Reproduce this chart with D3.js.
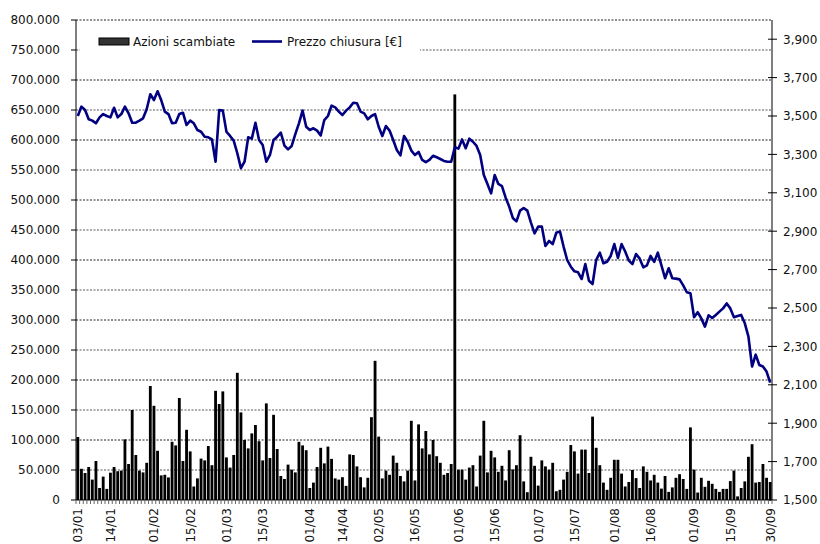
<!DOCTYPE html>
<html lang="en">
<head>
    <meta charset="UTF-8">
    <title>Azioni scambiate e prezzo chiusura</title>
    <script src="https://d3js.org/d3.v7.min.js"></script>
    <style>
        body { margin: 0; background: #fff; }
        svg { display: block; font-family: "DejaVu Sans", sans-serif; }
    </style>
</head>
<body>
    <svg id="chart" width="820" height="544"></svg>

    <script>
        // Trading days (dd/mm), 03/01 to 30/09
        const dates = [
            "03/01","04/01","05/01","06/01","07/01","10/01","11/01","12/01","13/01","14/01","17/01","18/01","19/01","20/01","21/01","24/01","25/01","26/01","27/01","28/01","31/01",
            "01/02","02/02","03/02","04/02","07/02","08/02","09/02","10/02","11/02","14/02","15/02","16/02","17/02","18/02","21/02","22/02","23/02","24/02","25/02","28/02",
            "01/03","02/03","03/03","04/03","07/03","08/03","09/03","10/03","11/03","14/03","15/03","16/03","17/03","18/03","21/03","22/03","23/03","24/03","25/03","28/03","29/03","30/03","31/03",
            "01/04","04/04","05/04","06/04","07/04","08/04","11/04","12/04","13/04","14/04","15/04","18/04","19/04","20/04","21/04","26/04","27/04","28/04","29/04",
            "02/05","03/05","04/05","05/05","06/05","09/05","10/05","11/05","12/05","13/05","16/05","17/05","18/05","19/05","20/05","23/05","24/05","25/05","26/05","27/05","30/05","31/05",
            "01/06","02/06","03/06","06/06","07/06","08/06","09/06","10/06","13/06","14/06","15/06","16/06","17/06","20/06","21/06","22/06","23/06","24/06","27/06","28/06","29/06","30/06",
            "01/07","04/07","05/07","06/07","07/07","08/07","11/07","12/07","13/07","14/07","15/07","18/07","19/07","20/07","21/07","22/07","25/07","26/07","27/07","28/07","29/07",
            "01/08","02/08","03/08","04/08","05/08","08/08","09/08","10/08","11/08","12/08","16/08","17/08","18/08","19/08","22/08","23/08","24/08","25/08","26/08","29/08","30/08","31/08",
            "01/09","02/09","05/09","06/09","07/09","08/09","09/09","12/09","13/09","14/09","15/09","16/09","19/09","20/09","21/09","22/09","23/09","26/09","27/09","28/09","29/09","30/09"
        ];

        // Azioni scambiate (shares traded), in thousands
        const volumeK = [
            105, 52, 45, 55, 34, 65, 20, 39, 18.5, 45.5,
            55, 48, 49, 101, 60, 150, 75, 49, 46, 62,
            190, 157, 82, 41, 42, 37.6, 97, 91, 170, 65,
            117, 81, 22.5, 36, 69, 66, 90, 58, 182, 160,
            181, 71, 54, 75, 212, 146, 100, 86, 111, 125,
            98, 66, 161, 70, 142, 85, 40, 35, 59, 50.5,
            46, 97, 91, 83, 20, 29, 55, 87, 61, 89,
            68.5, 36, 34, 38, 23.6, 76, 75, 56, 38, 21,
            37, 138, 232, 105.6, 36, 49, 42, 74, 62, 40,
            31, 49, 132, 32.6, 126, 86, 115, 76, 100, 73,
            62, 42, 45, 60, 676, 50.6, 50.6, 34, 54, 58,
            22.5, 74, 132, 46, 82, 71, 47, 57, 32.6, 83,
            51, 58, 108, 31, 13, 72, 57, 24, 66, 56,
            50.6, 62, 14.6, 17, 34, 47, 91.6, 81, 44, 84,
            84, 45, 139, 87, 58, 29, 17, 37, 67, 67,
            44, 22.5, 30, 50, 36.5, 20, 56, 47, 32.6, 42,
            29, 19, 40, 13.5, 21, 37, 43, 35, 18.5, 121,
            50.6, 12.4, 37, 22, 32, 27, 18.5, 13.5, 18.5, 18.5,
            31.5, 49, 6, 20, 31, 72, 93, 29, 30, 60,
            37, 30
        ];

        // Prezzo chiusura (right axis)
        const price = [
            3500, 3549, 3531, 3483, 3476, 3462, 3493, 3510, 3500, 3493,
            3543, 3493, 3510, 3549, 3514, 3465, 3465, 3476, 3488, 3535,
            3613, 3583, 3629, 3583, 3523, 3510, 3462, 3465, 3510, 3517,
            3453, 3476, 3462, 3427, 3418, 3392, 3389, 3378, 3262, 3531,
            3528, 3418, 3396, 3372, 3306, 3228, 3262, 3389, 3382, 3465,
            3375, 3349, 3262, 3297, 3375, 3392, 3413, 3346, 3326, 3344,
            3406, 3462, 3528, 3444, 3427, 3436, 3424, 3399, 3479, 3500,
            3554, 3545, 3523, 3505, 3528, 3545, 3569, 3566, 3523, 3514,
            3483, 3500, 3510, 3444, 3396, 3448, 3424, 3375, 3323, 3295,
            3396, 3366, 3320, 3297, 3313, 3271, 3260, 3271, 3293, 3285,
            3276, 3266, 3262, 3262, 3337, 3330, 3378, 3332, 3382, 3366,
            3344, 3297, 3193, 3146, 3097, 3193, 3146, 3135, 3076, 3028,
            2969, 2951, 3007, 3021, 3007, 2945, 2889, 2924, 2924, 2823,
            2849, 2833, 2892, 2899, 2820, 2750, 2715, 2691, 2686, 2651,
            2729, 2642, 2625, 2750, 2788, 2733, 2741, 2771, 2833, 2761,
            2833, 2794, 2747, 2729, 2781, 2757, 2712, 2722, 2771, 2740,
            2788, 2722, 2655, 2707, 2655, 2653, 2649, 2618, 2582, 2577,
            2452, 2478, 2446, 2403, 2462, 2448, 2464, 2481, 2498, 2524,
            2498, 2452, 2458, 2464, 2420, 2351, 2195, 2257, 2203, 2195,
            2169, 2111
        ];

        // Labelled dates on the x axis
        const tickLabels = ["03/01","14/01","01/02","15/02","01/03","15/03","01/04","14/04","02/05","16/05",
                            "01/06","15/06","01/07","15/07","01/08","16/08","01/09","15/09","30/09"];

        const leftTicks = d3.range(0, 800001, 50000);
        const rightTicks = d3.range(1500, 3901, 200);

        const data = dates.map((d, i) => ({ date: d, volume: volumeK[i] * 1000, price: price[i] }));

        const m = { left: 76, right: 772, top: 20, bottom: 500 };
        const svg = d3.select("#chart");

        const x = d3.scaleBand().domain(dates).range([m.left, m.right]).paddingInner(0.22).paddingOuter(0.11);
        const yL = d3.scaleLinear().domain([0, 800000]).range([m.bottom, m.top]);
        const yR = d3.scaleLinear().domain([1500, 4000]).range([m.bottom, m.top]);

        const fmtLeft = v => v === 0 ? "0" : d3.format(",")(v).replace(/,/g, ".");
        const fmtRight = d3.format(",");

        // gridlines: dark every 100.000, grey in between
        svg.append("g").selectAll("line")
            .data(leftTicks.filter(v => v > 0))
            .join("line")
            .attr("x1", m.left).attr("x2", m.right)
            .attr("y1", d => yL(d)).attr("y2", d => yL(d))
            .attr("stroke", d => d % 100000 === 0 ? "#222" : "#aaa")
            .attr("stroke-width", d => d % 100000 === 0 ? 1 : 2)
            .attr("stroke-dasharray", "2,1.5");

        // bars
        svg.append("g").selectAll("rect")
            .data(data)
            .join("rect")
            .attr("x", d => x(d.date))
            .attr("width", x.bandwidth())
            .attr("y", d => yL(d.volume))
            .attr("height", d => yL(0) - yL(d.volume))
            .attr("fill", "#000");

        // price line
        const line = d3.line()
            .x(d => x(d.date) + x.bandwidth() / 2)
            .y(d => yR(d.price));

        svg.append("path")
            .datum(data)
            .attr("d", line)
            .attr("fill", "none")
            .attr("stroke", "#000080")
            .attr("stroke-width", 2.6)
            .attr("stroke-linejoin", "round");

        // left axis
        const gL = svg.append("g");
        gL.append("line").attr("x1", m.left).attr("x2", m.left).attr("y1", m.top).attr("y2", m.bottom).attr("stroke", "#000");
        gL.selectAll("line.t").data(leftTicks).join("line")
            .attr("class", "t")
            .attr("x1", m.left - 5).attr("x2", m.left)
            .attr("y1", d => yL(d)).attr("y2", d => yL(d))
            .attr("stroke", "#000");
        gL.selectAll("text").data(leftTicks).join("text")
            .attr("x", m.left - 16).attr("y", d => yL(d)).attr("dy", "0.36em")
            .attr("text-anchor", "end").attr("font-size", 12).attr("fill", "#111")
            .text(fmtLeft);

        // right axis
        const gR = svg.append("g");
        gR.append("line").attr("x1", m.right).attr("x2", m.right).attr("y1", m.top).attr("y2", m.bottom).attr("stroke", "#000");
        gR.selectAll("line.t").data(rightTicks).join("line")
            .attr("class", "t")
            .attr("x1", m.right - 4).attr("x2", m.right + 5)
            .attr("y1", d => yR(d)).attr("y2", d => yR(d))
            .attr("stroke", "#000");
        gR.selectAll("text").data(rightTicks).join("text")
            .attr("x", m.right + 11).attr("y", d => yR(d)).attr("dy", "0.36em")
            .attr("font-size", 12).attr("fill", "#111")
            .text(fmtRight);

        // x axis
        const gX = svg.append("g");
        gX.append("line").attr("x1", m.left).attr("x2", m.right).attr("y1", m.bottom).attr("y2", m.bottom).attr("stroke", "#000");
        gX.selectAll("line.t").data(dates.concat(["end"])).join("line")
            .attr("class", "t")
            .attr("x1", (d, i) => m.left + i * x.step()).attr("x2", (d, i) => m.left + i * x.step())
            .attr("y1", m.bottom).attr("y2", m.bottom + 4)
            .attr("stroke", "#666");
        gX.selectAll("text").data(tickLabels).join("text")
            .attr("transform", d => `translate(${x(d) + x.bandwidth() / 2},${m.bottom + 8}) rotate(-90)`)
            .attr("dy", "0.36em")
            .attr("text-anchor", "end").attr("font-size", 12).attr("fill", "#111")
            .text(d => d);

        // legend
        const lg = svg.append("g");
        lg.append("rect").attr("x", 80).attr("y", 29).attr("width", 340).attr("height", 23).attr("fill", "#fff");
        lg.append("rect").attr("x", 99).attr("y", 38).attr("width", 30).attr("height", 7)
            .attr("fill", "#333").attr("stroke", "#000");
        lg.append("text").attr("x", 133).attr("y", 46).attr("font-size", 12).attr("fill", "#111").text("Azioni scambiate");
        lg.append("line").attr("x1", 252).attr("x2", 282).attr("y1", 41.5).attr("y2", 41.5)
            .attr("stroke", "#000080").attr("stroke-width", 2.6);
        lg.append("text").attr("x", 287).attr("y", 46).attr("font-size", 12).attr("fill", "#111").text("Prezzo chiusura [€]");
    </script>
</body>
</html>
